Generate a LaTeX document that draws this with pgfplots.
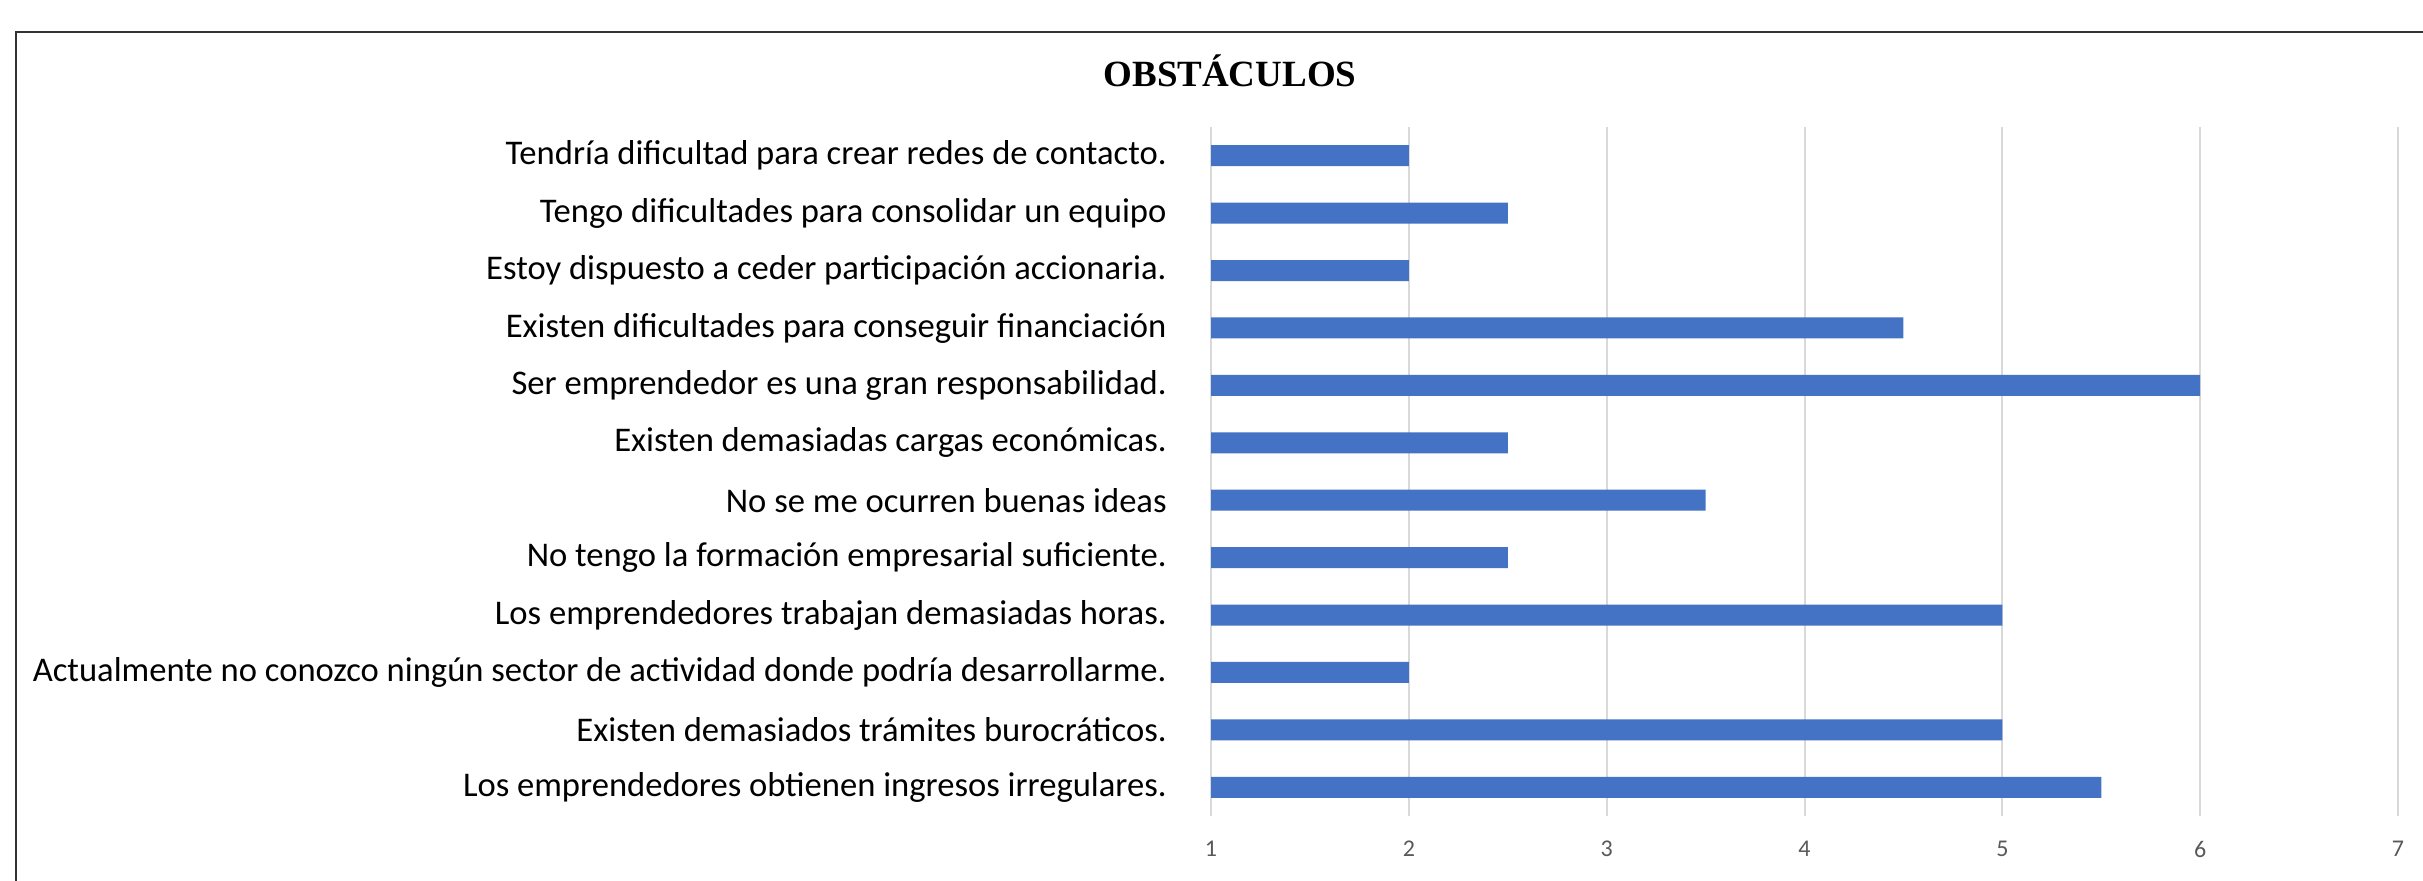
\documentclass[border=0pt]{standalone}
\usepackage{fontspec}
\setmainfont{Carlito}
\newfontfamily\titlefont{Liberation Serif}
\usepackage{pgfplots}
\pgfplotsset{compat=1.18}
\definecolor{barblue}{HTML}{4472C4}
\definecolor{gridgray}{HTML}{D9D9D9}
\definecolor{ticklabelgray}{HTML}{595959}
\begin{document}
\begin{tikzpicture}
\useasboundingbox (0,0) rectangle (1211.5pt,440pt);
\draw[line width=1pt, black!80] (8pt,-5pt) -- (8pt,424pt) -- (1220pt,424pt);
\node[font=\titlefont\bfseries\fontsize{18.5}{21}\selectfont, anchor=center] at (615pt,404.5pt) {OBSTÁCULOS};
\begin{axis}[
  at={(605.5pt,32pt)}, anchor=south west,
  scale only axis,
  width=593.5pt, height=344.5pt,
  xbar, bar width=10.5pt,
  xmin=1, xmax=7,
  ymin=-0.5, ymax=11.5,
  y dir=reverse,
  axis line style={draw=none},
  xtick={1,2,3,4,5,6,7},
  ytick={0,1,2,3,4,5,6,7,8,9,10,11},
  yticklabels={
    Tendría dificultad para crear redes de contacto.,
    Tengo dificultades para consolidar un equipo,
    Estoy dispuesto a ceder participación accionaria.,
    Existen dificultades para conseguir financiación,
    Ser emprendedor es una gran responsabilidad.,
    Existen demasiadas cargas económicas.,
    No se me ocurren buenas ideas,
    No tengo la formación empresarial suficiente.,
    Los emprendedores trabajan demasiadas horas.,
    Actualmente no conozco ningún sector de actividad donde podría desarrollarme.,
    Existen demasiados trámites burocráticos.,
    Los emprendedores obtienen ingresos irregulares.
  },
  major tick length=0pt,
  tick style={draw=none},
  xmajorgrids,
  grid style={gridgray, line width=1pt},
  yticklabel style={font=\fontsize{17.3}{19}\selectfont, inner sep=0pt, anchor=east, xshift=-22pt, text=black},
  xticklabel style={font=\fontsize{12}{14}\selectfont, inner sep=0pt, anchor=north, yshift=-12.5pt, text=ticklabelgray},
  /pgf/number format/assume math mode=true,
  clip=true,
]
\addplot[fill=barblue, draw=none] coordinates {
  (2,0) (2.5,1) (2,2) (4.5,3) (6,4) (2.5,5) (3.5,6) (2.5,7) (5,8) (2,9) (5,10) (5.5,11)
};
\end{axis}
\end{tikzpicture}
\end{document}
